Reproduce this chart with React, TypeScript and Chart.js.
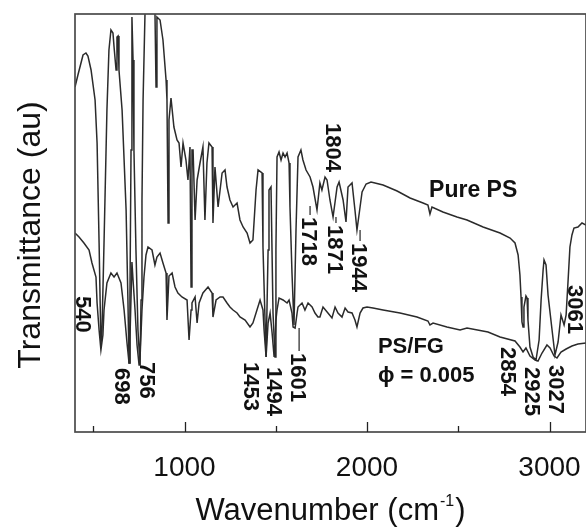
import React, { useEffect, useRef } from "react";
import { Chart, registerables } from "chart.js";

Chart.register(...registerables);

// ---- Data (y in arbitrary transmittance units) ----
const psWavenumber = [
  400, 416, 444, 460, 471, 488, 510, 521, 532, 542,
  548, 559, 575, 586, 597, 608, 614, 625, 630, 636,
  641, 658, 680, 690, 696, 701, 707, 712, 718, 723,
  734, 745, 756, 762, 767, 773, 784, 795, 827, 838,
  844, 849, 866, 882, 899, 904, 910, 915, 926, 942,
  959, 970, 981, 992, 1008, 1019, 1030, 1036, 1041, 1047,
  1058, 1069, 1085, 1101, 1112, 1123, 1134, 1151, 1156, 1167,
  1184, 1206, 1222, 1233, 1249, 1266, 1288, 1304, 1321, 1343,
  1359, 1375, 1392, 1403, 1425, 1430, 1447, 1458, 1463, 1474,
  1485, 1496, 1501, 1507, 1518, 1529, 1540, 1551, 1562, 1573,
  1578, 1589, 1600, 1611, 1622, 1638, 1649, 1666, 1688, 1704,
  1726, 1742, 1753, 1770, 1781, 1797, 1814, 1836, 1847, 1869,
  1885, 1896, 1918, 1934, 1945, 1962, 1973, 1995, 2022, 2088,
  2165, 2236, 2307, 2334, 2345, 2356, 2416, 2493, 2548, 2636,
  2729, 2784, 2811, 2828, 2838, 2844, 2849, 2855, 2860, 2871,
  2877, 2882, 2893, 2910, 2926, 2943, 2954, 2965, 2970, 2981,
  2992, 3014, 3030, 3047, 3063, 3080, 3091, 3102, 3112, 3123,
  3134, 3156, 3178, 3200,
];
const psTransmittance = [
  345, 357, 377, 379, 376, 362, 332, 289, 189, 87,
  102, 189, 322, 382, 402, 399, 385, 362, 395, 396,
  362, 322, 222, 132, 69, 132, 282, 415, 372, 282,
  182, 102, 67, 132, 232, 332, 422, 442, 442, 422,
  345, 415, 412, 392, 352, 332, 209, 312, 334, 305,
  292, 289, 265, 289, 272, 252, 285, 145, 282, 282,
  212, 252, 269, 285, 212, 269, 289, 285, 209, 265,
  225, 259, 262, 245, 232, 225, 229, 212, 205, 199,
  189, 192, 242, 262, 259, 185, 75, 182, 242, 245,
  119, 75, 182, 275, 280, 272, 279, 275, 279, 269,
  225, 159, 107, 202, 275, 282, 272, 262, 255, 245,
  222, 249, 242, 255, 252, 232, 215, 245, 250, 232,
  210, 245, 249, 222, 202, 225, 240, 248, 250, 247,
  241, 234, 229, 227, 218, 225, 220, 215, 212, 205,
  199, 194, 189, 177, 157, 135, 110, 105, 125, 136,
  134, 112, 85, 75, 72, 92, 132, 162, 172, 167,
  137, 102, 77, 90, 117, 107, 117, 152, 185, 197,
  204, 205, 209, 207,
];

const fgWavenumber = [
  400, 422, 449, 477, 493, 515, 521, 532, 542, 553,
  559, 575, 597, 614, 630, 652, 669, 685, 696, 701,
  712, 718, 729, 740, 751, 756, 767, 778, 789, 800,
  822, 838, 849, 866, 882, 899, 904, 915, 932, 948,
  964, 986, 1014, 1025, 1036, 1041, 1058, 1069, 1080, 1101,
  1129, 1151, 1156, 1173, 1195, 1211, 1233, 1249, 1266, 1288,
  1304, 1332, 1359, 1375, 1397, 1414, 1430, 1436, 1447, 1458,
  1469, 1480, 1491, 1501, 1507, 1518, 1540, 1562, 1573, 1589,
  1595, 1606, 1617, 1622, 1644, 1660, 1677, 1699, 1715, 1731,
  1742, 1759, 1786, 1808, 1825, 1841, 1863, 1880, 1896, 1918,
  1934, 1945, 1962, 1978, 2000, 2033, 2088, 2181, 2274, 2334,
  2345, 2362, 2438, 2510, 2548, 2663, 2729, 2811, 2838, 2855,
  2871, 2893, 2921, 2937, 2959, 2986, 3003, 3025, 3041, 3063,
  3091, 3123, 3156, 3200,
];
const fgTransmittance = [
  199, 195, 189, 182, 169, 155, 129, 102, 82, 97,
  122, 149, 159, 155, 159, 149, 122, 89, 69, 92,
  170, 152, 122, 87, 67, 72, 122, 155, 177, 185,
  182, 167, 175, 179, 169, 159, 112, 156, 159, 145,
  139, 135, 132, 92, 122, 129, 135, 109, 129, 139,
  145, 139, 115, 132, 135, 135, 129, 125, 122, 119,
  115, 112, 105, 109, 122, 132, 122, 102, 75, 109,
  119, 99, 75, 112, 122, 134, 132, 129, 132, 119,
  105, 104, 119, 125, 129, 122, 129, 125, 119, 115,
  115, 125, 119, 114, 125, 119, 115, 124, 120, 119,
  112, 105, 119, 124, 125, 124, 122, 119, 115, 111,
  107, 109, 105, 102, 104, 100, 95, 91, 85, 80,
  84, 76, 72, 71, 79, 87, 84, 76, 74, 80,
  83, 86, 88, 89,
];

const xTickValues = [500, 1000, 1500, 2000, 2500, 3000];
const xTickLabels = ["", "1000", "", "2000", "", "3000"];

// peak annotations: text, centre wavenumber, top of label (y units), leader start (y units or null)
const peakLabels = ["540", "698", "756", "1453", "1494", "1601", "1718", "1804", "1871", "1944", "2854", "2925", "3027", "3061"];
const peakLabelWn = [449, 663, 800, 1370, 1496, 1628, 1688, 1819, 1830, 1962, 2778, 2910, 3041, 3145];
const peakLabelTop = [136, 64, 70, 70, 65, 79, 215, 309, 207, 189, 85, 65, 67, 147];
const peakLeaderFrom: (number | null)[] = [null, null, null, null, null, 104, 226, null, 215, 202, null, null, null, null];

const seriesNames = ["Pure PS", "PS/FG", "\u03d5 = 0.005"];
const seriesNameWn = [2340, 2060, 2060];
const seriesNameY = [235, 79, 50];

const xTitle = "Wavenumber (cm";
const xTitleSup = "-1";
const yTitle = "Transmittance (au)";

const FONT = '"Liberation Sans", Arial, Helvetica, sans-serif';

export default function App() {
  const canvasRef = useRef<HTMLCanvasElement | null>(null);

  useEffect(() => {
    const canvas = canvasRef.current;
    if (!canvas) return;

    const overlay = {
      id: "overlay",
      afterDatasetsDraw(chart: any) {
        const { ctx, chartArea: a, scales } = chart;
        const x = scales.x;
        const y = scales.y;
        ctx.save();

        // frame
        ctx.strokeStyle = "#4a4a4a";
        ctx.lineWidth = 1.7;
        ctx.strokeRect(a.left, a.top, a.right - a.left, a.bottom - a.top);

        // inward tick marks
        ctx.strokeStyle = "#222";
        ctx.lineWidth = 1.3;
        xTickValues.forEach((v) => {
          const px = Math.round(x.getPixelForValue(v)) + 0.5;
          const len = v % 1000 === 0 ? 10 : 6;
          ctx.beginPath();
          ctx.moveTo(px, a.bottom);
          ctx.lineTo(px, a.bottom - len);
          ctx.stroke();
        });

        // peak labels (rotated, reading downwards)
        const pSize = 22;
        ctx.fillStyle = "#111";
        ctx.font = `bold ${pSize}px ${FONT}`;
        ctx.textAlign = "left";
        ctx.textBaseline = "alphabetic";
        peakLabels.forEach((t, i) => {
          const px = x.getPixelForValue(peakLabelWn[i]);
          const py = y.getPixelForValue(peakLabelTop[i]);
          ctx.save();
          ctx.translate(px, py);
          ctx.rotate(Math.PI / 2);
          ctx.fillText(t, 0, pSize * 0.716 / 2);
          ctx.restore();
          const lf = peakLeaderFrom[i];
          if (lf !== null) {
            ctx.strokeStyle = "#222";
            ctx.lineWidth = 1.2;
            ctx.beginPath();
            ctx.moveTo(px, y.getPixelForValue(lf));
            ctx.lineTo(px, py - 2);
            ctx.stroke();
          }
        });

        // series names
        ctx.textAlign = "left";
        ctx.textBaseline = "alphabetic";
        seriesNames.forEach((t, i) => {
          ctx.font = `bold ${i === 0 ? 23 : 22}px ${FONT}`;
          ctx.fillText(t, x.getPixelForValue(seriesNameWn[i]), y.getPixelForValue(seriesNameY[i]));
        });

        // x title with superscript
        const big = `31px ${FONT}`;
        const small = `16px ${FONT}`;
        ctx.font = big;
        const w1 = ctx.measureText(xTitle).width;
        const w3 = ctx.measureText(")").width;
        ctx.font = small;
        const w2 = ctx.measureText(xTitleSup).width;
        const total = w1 + w2 + w3 + 2;
        let sx = (a.left + a.right) / 2 - total / 2;
        const by = a.bottom + 88;
        ctx.font = big;
        ctx.fillText(xTitle, sx, by);
        sx += w1 + 1;
        ctx.font = small;
        ctx.fillText(xTitleSup, sx, by - 14);
        sx += w2 + 1;
        ctx.font = big;
        ctx.fillText(")", sx, by);

        // y title
        ctx.save();
        ctx.translate(31, (a.top + a.bottom) / 2 + 12);
        ctx.rotate(-Math.PI / 2);
        ctx.textAlign = "center";
        ctx.textBaseline = "middle";
        ctx.font = `32px ${FONT}`;
        ctx.fillText(yTitle, 0, 0);
        ctx.restore();

        ctx.restore();
      },
    };

    const chart = new Chart(canvas, {
      type: "line",
      data: {
        datasets: [
          {
            label: "Pure PS",
            data: psWavenumber.map((w, i) => ({ x: w, y: psTransmittance[i] })),
            borderColor: "#2b2b2b",
            borderWidth: 1.5,
            pointRadius: 0,
            tension: 0,
            fill: false,
          },
          {
            label: "PS/FG",
            data: fgWavenumber.map((w, i) => ({ x: w, y: fgTransmittance[i] })),
            borderColor: "#2b2b2b",
            borderWidth: 1.5,
            pointRadius: 0,
            tension: 0,
            fill: false,
          },
        ],
      },
      options: {
        responsive: false,
        animation: false,
        layout: { padding: { left: 75, right: 0, top: 14, bottom: 0 } },
        plugins: { legend: { display: false }, tooltip: { enabled: false } },
        scales: {
          x: {
            type: "linear",
            min: 400,
            max: 3200,
            grid: { display: false, drawTicks: false },
            border: { display: false },
            afterBuildTicks: (scale: any) => {
              scale.ticks = xTickValues.map((v) => ({ value: v }));
            },
            afterFit: (scale: any) => {
              scale.height = 96;
              scale.paddingLeft = 0;
              scale.paddingRight = 0;
            },
            ticks: {
              autoSkip: false,
              maxRotation: 0,
              padding: 19,
              color: "#111",
              font: { family: FONT, size: 28 },
              callback: (v: any) => {
                const idx = xTickValues.indexOf(Number(v));
                return idx >= 0 ? xTickLabels[idx] : "";
              },
            },
          },
          y: {
            type: "linear",
            display: false,
            min: 0,
            max: 418,
          },
        },
      },
      plugins: [overlay],
    });

    return () => chart.destroy();
  }, []);

  return (
    <div style={{ position: "absolute", left: 0, top: 0, width: 586, height: 528, background: "#fff" }}>
      <canvas ref={canvasRef} width={586} height={528} />
    </div>
  );
}
